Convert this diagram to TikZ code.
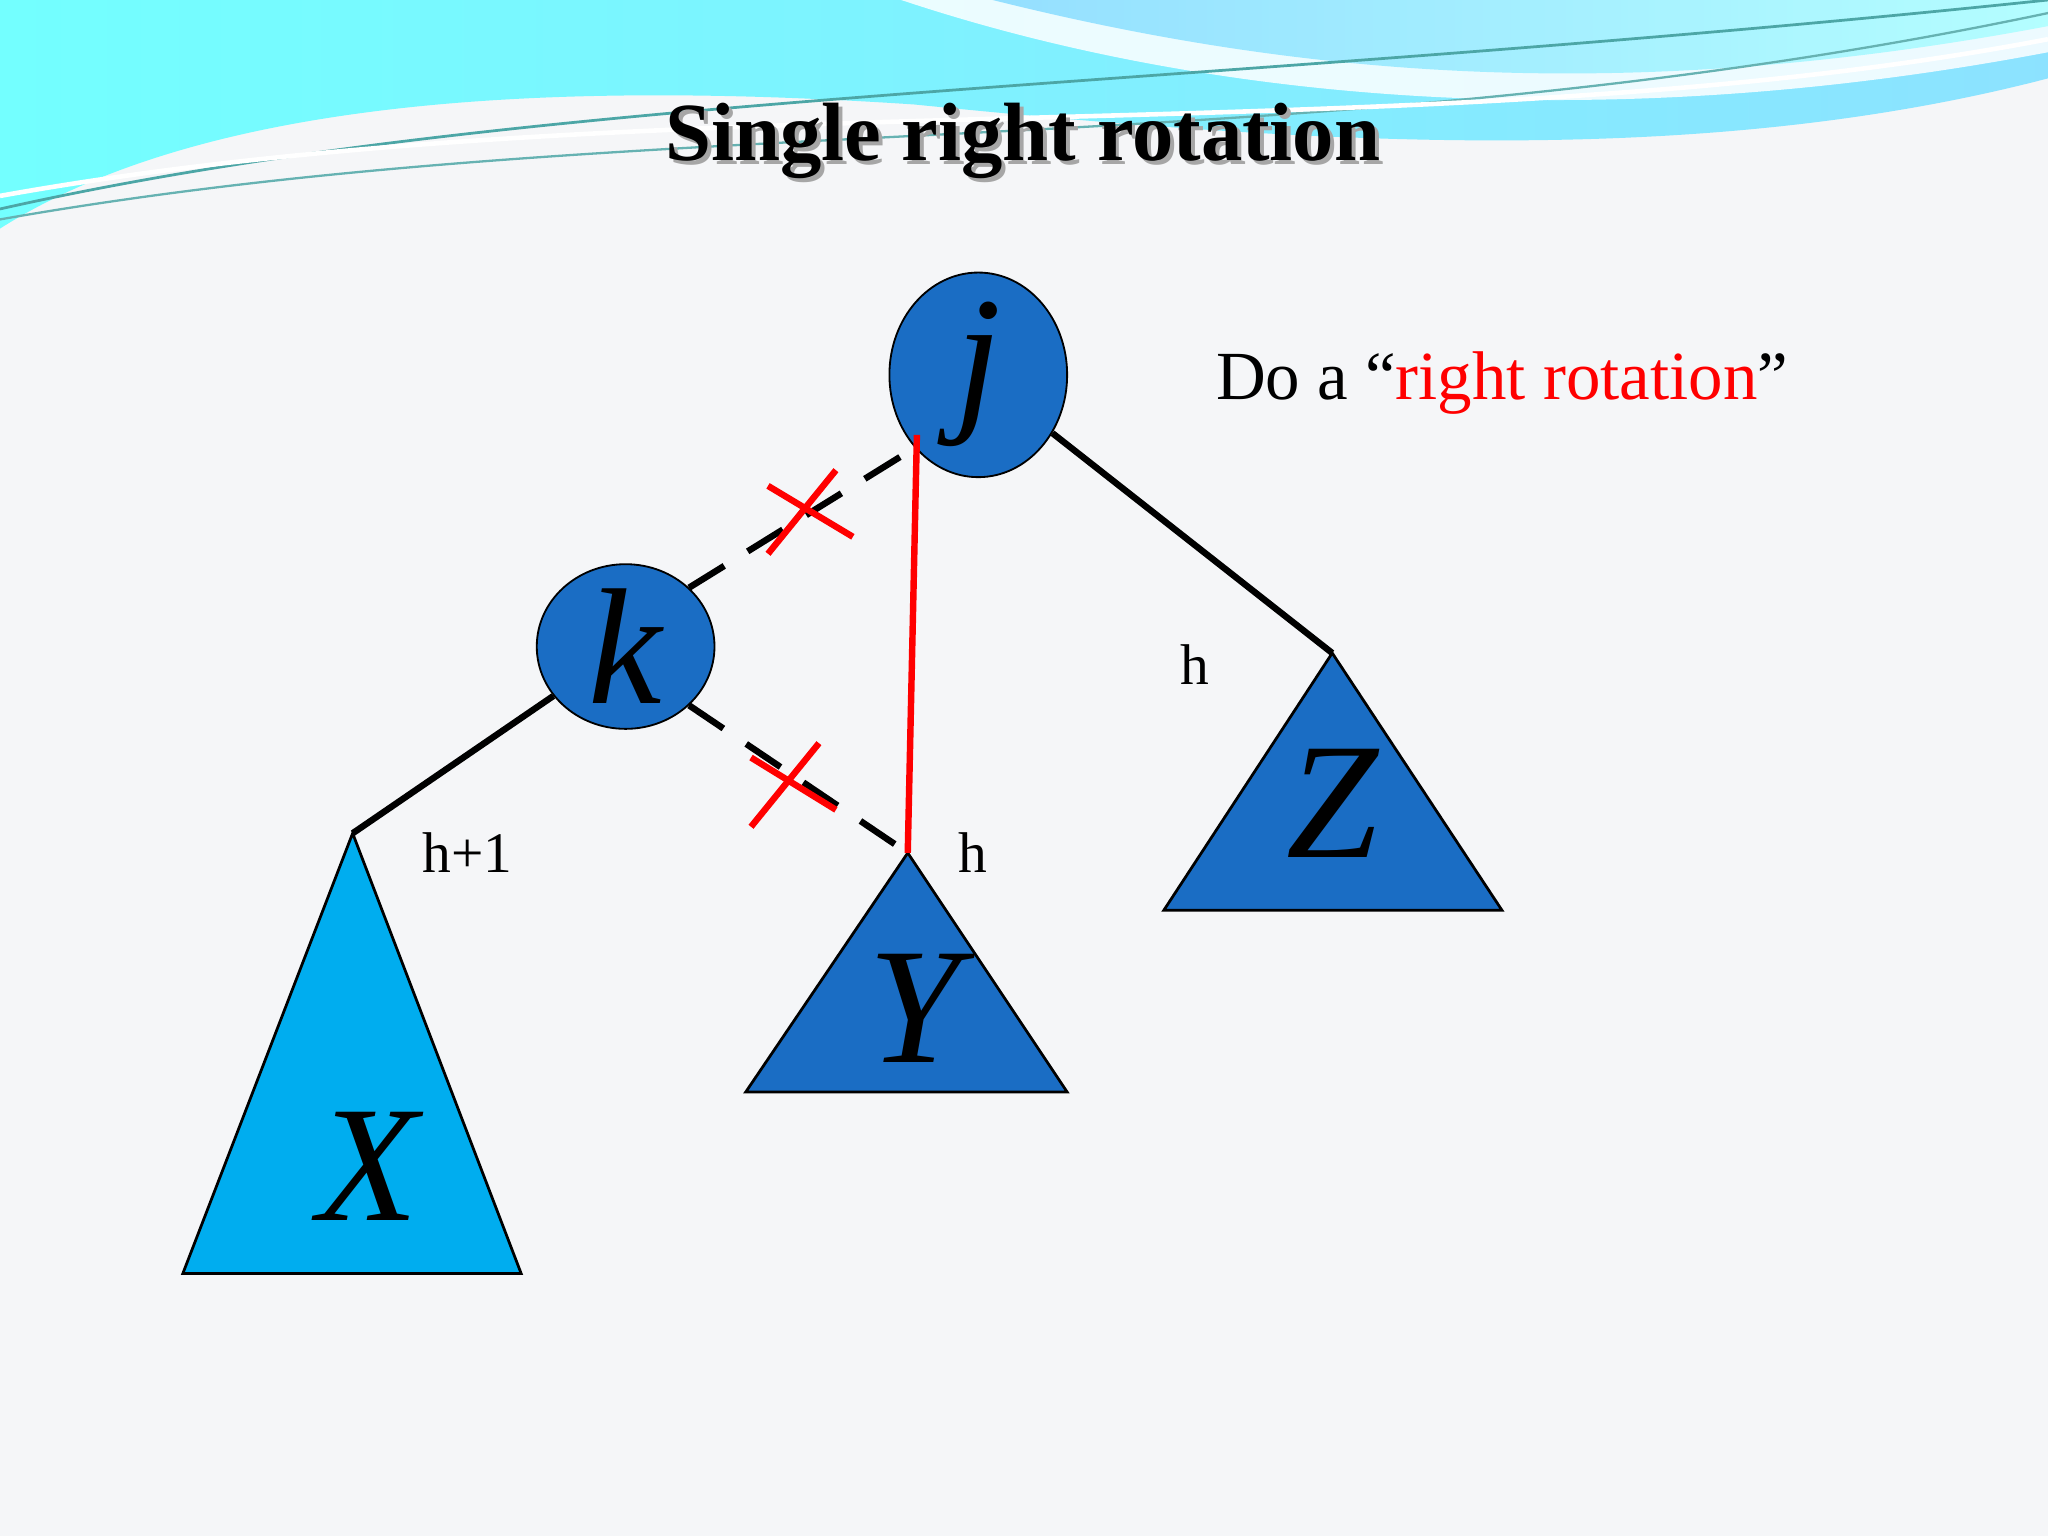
\documentclass[tikz,border=0pt]{standalone}
\usepackage{fontspec}
\setmainfont{Liberation Serif}
\usetikzlibrary{shapes.geometric}
\definecolor{nodeblue}{HTML}{1A6DC4}
\definecolor{bg}{HTML}{F5F6F8}
\begin{document}
\begin{tikzpicture}[x=0.01cm,y=-0.01cm,
  circ/.style={ellipse,draw=black,fill=nodeblue,minimum width=1.36cm,minimum height=1.26cm,inner sep=0pt,font=\fontsize{36}{36}\selectfont\itshape},
  tri/.style={draw=black,fill=nodeblue,line width=0.6pt},
  edge/.style={black,line width=1.4pt},
  dedge/.style={black,line width=1.4pt,dash pattern=on 9pt off 6pt},
  cross/.style={red,line width=1.4pt},
  hl/.style={font=\fontsize{12.5}{12.5}\selectfont}]
\useasboundingbox (0,0) rectangle (1568,1176);
\fill[bg] (0,0) rectangle (1568,1176);
% header wave
\shade[left color=cyan!55!white,right color=blue!25!cyan!45!white]
  (0,0) -- (1568,0) -- (1568,60) .. controls (1300,130) and (1000,110) .. (700,80)
  .. controls (400,60) and (150,80) .. (0,175) -- cycle;
\fill[white,opacity=0.85] (690,0) .. controls (900,70) and (1200,110) .. (1568,40) -- (1568,0) -- cycle;
\shade[left color=blue!30!cyan!50!white,right color=cyan!35!white,opacity=0.8]
  (760,0) .. controls (1000,60) and (1250,80) .. (1568,20) -- (1568,0) -- cycle;
\draw[teal!70,line width=0.6pt] (0,160) .. controls (400,70) and (900,70) .. (1568,0);
\draw[teal!60,line width=0.5pt] (0,168) .. controls (500,80) and (1000,130) .. (1568,10);
\draw[white,line width=1pt] (0,150) .. controls (500,60) and (1100,120) .. (1568,30);
% title
\node[gray!70,font=\fontsize{18}{18}\selectfont\bfseries] at (786,111) {Single right rotation};
\node (title) [font=\fontsize{18}{18}\selectfont\bfseries] at (783,108) {Single right rotation};
% triangles
\draw[tri,fill=cyan] (270,638) coordinate (xa) -- (140,975) -- (399,975) -- cycle;
\draw[tri] (695,653) coordinate (ya) -- (571,836) -- (817,836) -- cycle;
\draw[tri] (1020,500) coordinate (za) -- (891,697) -- (1150,697) -- cycle;
\node (X) [font=\fontsize{36}{36}\selectfont\itshape] at (282,893) {X};
\node (Y) [font=\fontsize{36}{36}\selectfont\itshape] at (700,772) {Y};
\node (Z) [font=\fontsize{36}{36}\selectfont\itshape] at (1020,615) {Z};
% nodes
\node (j) [circ] at (749,287) {j};
\node (k) [circ] at (479,495) {k};
% edges
\draw[edge] (k) -- (xa);
\draw[edge] (j) -- (za);
\draw[dedge] (k.north east) -- (j.south west);
\draw[dedge] (k.south east) -- (ya);
\draw[red,line width=1.4pt] (702,333) -- (ya);
% crosses
\draw[cross] (588,372) -- (653,411);
\draw[cross] (588,424) -- (640,360);
\draw[cross] (575,580) -- (640,620);
\draw[cross] (575,633) -- (627,569);
% labels
\node (h1) [hl] at (358,653) {h+1};
\node (h2) [hl] at (745,653) {h};
\node (h3) [hl] at (915,509) {h};
\node (do) [font=\fontsize{15}{15}\selectfont] at (1150,293) {Do a “\textcolor{red}{right rotation}”};
\end{tikzpicture}
\end{document}
